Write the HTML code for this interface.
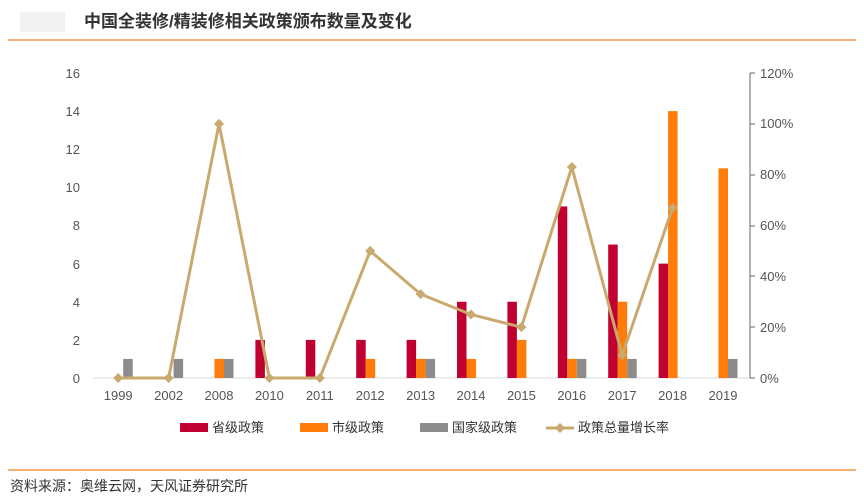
<!DOCTYPE html>
<html><head><meta charset="utf-8"><style>
body{margin:0;background:#fff;width:864px;height:497px;overflow:hidden;font-family:"Liberation Sans","Noto Sans CJK SC",sans-serif;}
</style></head><body>
<svg width="864" height="497" xmlns="http://www.w3.org/2000/svg" font-family="Liberation Sans, Noto Sans CJK SC, sans-serif">
<rect x="20" y="12" width="45" height="20" fill="#f2f2f2"/>
<text x="84" y="27" font-size="17" font-weight="bold" fill="#333">中国全装修/精装修相关政策颁布数量及变化</text>
<line x1="8" y1="40" x2="856" y2="40" stroke="#f79646" stroke-width="1.5"/>
<g font-size="13" fill="#555" text-anchor="end">
<text x="80" y="383">0</text><text x="80" y="345">2</text><text x="80" y="307">4</text><text x="80" y="269">6</text><text x="80" y="230">8</text><text x="80" y="192">10</text><text x="80" y="154">12</text><text x="80" y="116">14</text><text x="80" y="78">16</text>
</g>
<g font-size="13" fill="#555">
<text x="760" y="383">0%</text><text x="760" y="332">20%</text><text x="760" y="281">40%</text><text x="760" y="230">60%</text><text x="760" y="179">80%</text><text x="760" y="128">100%</text><text x="760" y="78">120%</text>
</g>
<line x1="93" y1="378" x2="750" y2="378" stroke="#d9d9d9"/>
<line x1="750" y1="73" x2="750" y2="378" stroke="#666"/>
<g stroke="#666"><line x1="750" y1="73" x2="755" y2="73"/><line x1="750" y1="124" x2="755" y2="124"/><line x1="750" y1="175" x2="755" y2="175"/><line x1="750" y1="226" x2="755" y2="226"/><line x1="750" y1="276" x2="755" y2="276"/><line x1="750" y1="327" x2="755" y2="327"/><line x1="750" y1="378" x2="755" y2="378"/></g>
<g id="bars"></g>
<g font-size="13" fill="#555" text-anchor="middle" id="xl"></g>
<polyline id="ln" fill="none" stroke="#c9a96e" stroke-width="3"/>
<g id="mk" fill="#c9a96e"></g>
<g font-size="13" fill="#333">
<rect x="180" y="423" width="28" height="9" fill="#c00030"/><text x="212" y="432">省级政策</text>
<rect x="300" y="423" width="28" height="9" fill="#ff7c0a"/><text x="332" y="432">市级政策</text>
<rect x="420" y="423" width="28" height="9" fill="#8c8c8c"/><text x="452" y="432">国家级政策</text>
<line x1="546" y1="428" x2="574" y2="428" stroke="#c9a96e" stroke-width="3"/><path d="M560 423 L565 428 L560 433 L555 428Z" fill="#c9a96e"/><text x="578" y="432">政策总量增长率</text>
</g>
<line x1="8" y1="470" x2="856" y2="470" stroke="#f79646" stroke-width="1.5"/>
<text x="10" y="491" font-size="14" fill="#333">资料来源：奥维云网，天风证券研究所</text>
<script>
var yrs=["1999","2002","2008","2010","2011","2012","2013","2014","2015","2016","2017","2018","2019"];
var r=[0,0,0,2,2,2,2,4,4,9,7,6,0],o=[0,0,1,0,0,1,1,1,2,1,4,14,11],g=[1,1,1,0,0,0,1,0,0,1,1,0,1];
var p=[0,0,100,0,0,50,33,25,20,83,9,67,null];
var ns="http://www.w3.org/2000/svg",b=document.getElementById("bars"),xl=document.getElementById("xl"),mk=document.getElementById("mk");
var u=305/16,pts=[];
function rc(x,v,c){if(!v)return;var e=document.createElementNS(ns,"rect");e.setAttribute("x",x);e.setAttribute("y",378-v*u);e.setAttribute("width",9.5);e.setAttribute("height",v*u);e.setAttribute("fill",c);b.appendChild(e);}
for(var i=0;i<13;i++){var c=93+50.4*(i+0.5);
rc(c-14,r[i],"#c00030");rc(c-4.5,o[i],"#ff7c0a");rc(c+5,g[i],"#8c8c8c");
var t=document.createElementNS(ns,"text");t.setAttribute("x",c);t.setAttribute("y",400);t.textContent=yrs[i];xl.appendChild(t);
if(p[i]!==null){var y=378-p[i]*305/120;pts.push(c+","+y);var d=document.createElementNS(ns,"path");d.setAttribute("d","M"+c+" "+(y-5)+" L"+(c+5)+" "+y+" L"+c+" "+(y+5)+" L"+(c-5)+" "+y+"Z");mk.appendChild(d);}}
document.getElementById("ln").setAttribute("points",pts.join(" "));
</script>
</svg>
</body></html>
